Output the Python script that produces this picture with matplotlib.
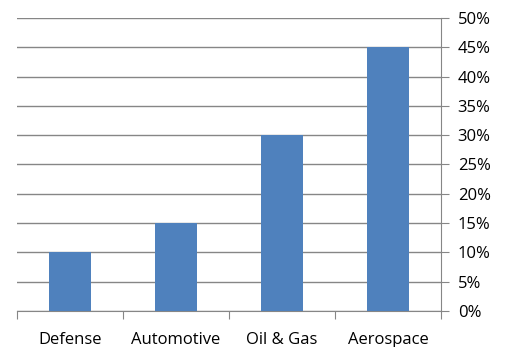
import matplotlib.pyplot as plt
from matplotlib.ticker import FuncFormatter, MultipleLocator

categories = ['Defense', 'Automotive', 'Oil & Gas', 'Aerospace']
values = [10, 15, 30, 45]

grid_color = '#868686'

fig = plt.figure(figsize=(5.06, 3.47), dpi=100)
ax = fig.add_axes([17 / 506, 36 / 347, 424 / 506, 293 / 347])

x = range(len(categories))
ax.bar(x, values, width=0.4, color='#4F81BD', zorder=3)

ax.set_xlim(-0.5, len(categories) - 0.5)
ax.set_ylim(0, 50)
ax.yaxis.set_major_locator(MultipleLocator(5))
ax.yaxis.set_major_formatter(FuncFormatter(lambda v, p: f'{v:.0f}%'))
ax.yaxis.tick_right()
ax.grid(axis='y', color=grid_color, linewidth=1, zorder=0)

ax.set_xticks([i - 0.5 for i in range(len(categories) + 1)], minor=False)
ax.set_xticklabels([])
ax.set_xticks(list(x), minor=True)
ax.set_xticklabels(categories, minor=True)
ax.tick_params(axis='x', which='major', length=6, color=grid_color, direction='out')
ax.tick_params(axis='x', which='minor', length=0, pad=15, labelsize=12)
ax.tick_params(axis='y', length=6, color=grid_color, labelsize=12, pad=6)

for side in ['top', 'left']:
    ax.spines[side].set_visible(False)
for side in ['right', 'bottom']:
    ax.spines[side].set_color(grid_color)

for lab in ax.get_xticklabels(minor=True) + ax.get_yticklabels():
    lab.set_fontfamily('Open Sans')
    lab.set_color('#000000')

fig.savefig('out.png', dpi=100)
